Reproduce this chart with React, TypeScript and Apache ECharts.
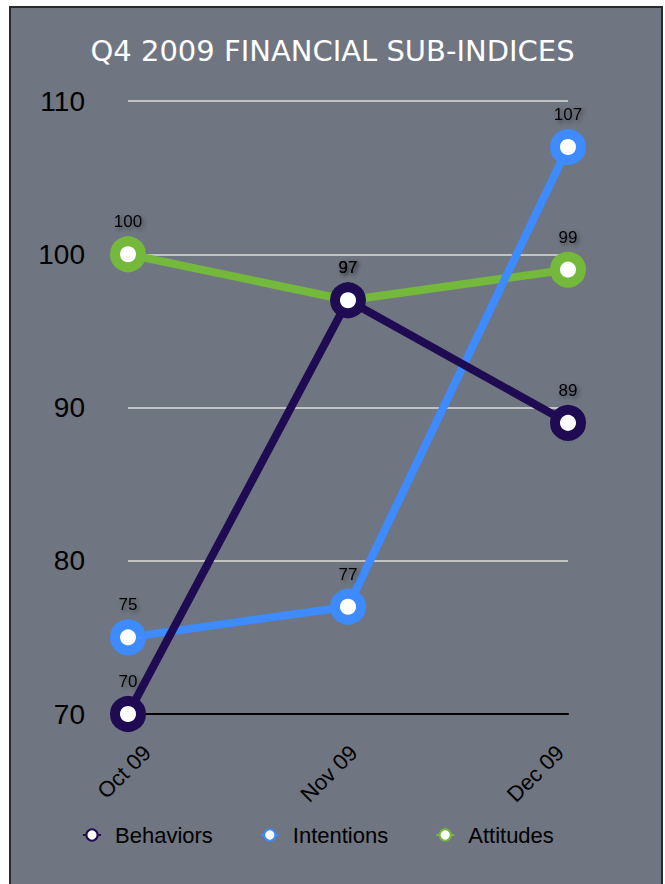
import React, { useEffect, useRef } from "react";
import * as echarts from "echarts";

const categories = ["Oct 09", "Nov 09", "Dec 09"];
const behaviors = [70, 97, 89];
const intentions = [75, 77, 107];
const attitudes = [100, 97, 99];
const seriesNames = ["Behaviors", "Intentions", "Attitudes"];
const colors = ["#1f0b52", "#3d8bff", "#74b83c"];

export default function App() {
  const ref = useRef<HTMLDivElement>(null);
  useEffect(() => {
    const chart = echarts.init(ref.current!, null, { renderer: "svg" });
    const font = "Liberation Sans, Arial, sans-serif";
    const datasets = [behaviors, intentions, attitudes];
    const zs = [4, 3, 2];
    chart.setOption({
      animation: false,
      backgroundColor: "#ffffff",
      graphic: [
        {
          type: "rect",
          z: -10,
          silent: true,
          shape: { x: 10, y: 7, width: 652, height: 880 },
          style: { fill: "#6f7581", stroke: "#2a2a2a", lineWidth: 2 },
        },
      ],
      title: {
        text: "Q4 2009 FINANCIAL SUB-INDICES",
        left: "center",
        top: 31,
        textStyle: {
          color: "#ffffff",
          fontFamily: "DejaVu Sans, Open Sans, sans-serif",
          fontWeight: "normal",
          fontSize: 29,
        },
      },
      legend: {
        data: seriesNames,
        left: 82,
        top: 824,
        padding: 0,
        itemGap: 47,
        itemWidth: 18,
        itemHeight: 14,
        textStyle: {
          color: "#000",
          fontSize: 22,
          fontFamily: font,
          padding: [0, 0, 0, 9],
        },
      },
      grid: [
        { left: 128, right: 97, top: 101, bottom: 170 },
        { left: 147, right: 105, top: 101, bottom: 170 },
      ],
      xAxis: [
        {
          type: "category",
          data: categories,
          boundaryGap: false,
          gridIndex: 0,
          axisLine: { lineStyle: { color: "#000", width: 2 } },
          axisTick: { show: false },
          axisLabel: { show: false },
          splitLine: { show: false },
        },
        {
          type: "category",
          data: categories,
          boundaryGap: false,
          gridIndex: 1,
          axisLine: { show: false },
          axisTick: { show: false },
          axisLabel: {
            rotate: 45,
            fontSize: 22,
            color: "#000",
            fontFamily: font,
            margin: 35,
          },
          splitLine: { show: false },
        },
      ],
      yAxis: [
        {
          type: "value",
          min: 70,
          max: 110,
          interval: 10,
          gridIndex: 0,
          axisLine: { show: false },
          axisTick: { show: false },
          axisLabel: { fontSize: 28, color: "#000", fontFamily: font, margin: 43 },
          splitLine: { lineStyle: { color: "#c2c2c2", width: 2 } },
        },
        {
          type: "value",
          min: 70,
          max: 110,
          interval: 10,
          gridIndex: 1,
          show: false,
          splitLine: { show: false },
        },
      ],
      series: seriesNames.map((name, i) => ({
        name,
        type: "line",
        data: datasets[i],
        xAxisIndex: 0,
        yAxisIndex: 0,
        z: zs[i],
        symbol: "circle",
        symbolSize: 26,
        lineStyle: { color: colors[i], width: 8 },
        itemStyle: { color: "#ffffff", borderColor: colors[i], borderWidth: 10 },
        label: {
          show: true,
          position: "top",
          distance: 6,
          color: "#000",
          fontSize: 17,
          fontFamily: font,
          textShadowColor: "rgba(0,0,0,0.45)",
          textShadowBlur: 4,
          textShadowOffsetX: 2,
          textShadowOffsetY: 2,
        },
      })),
    });
    return () => chart.dispose();
  }, []);
  return (
    <div
      ref={ref}
      style={{ position: "absolute", left: 0, top: 0, width: 665, height: 884 }}
    />
  );
}
